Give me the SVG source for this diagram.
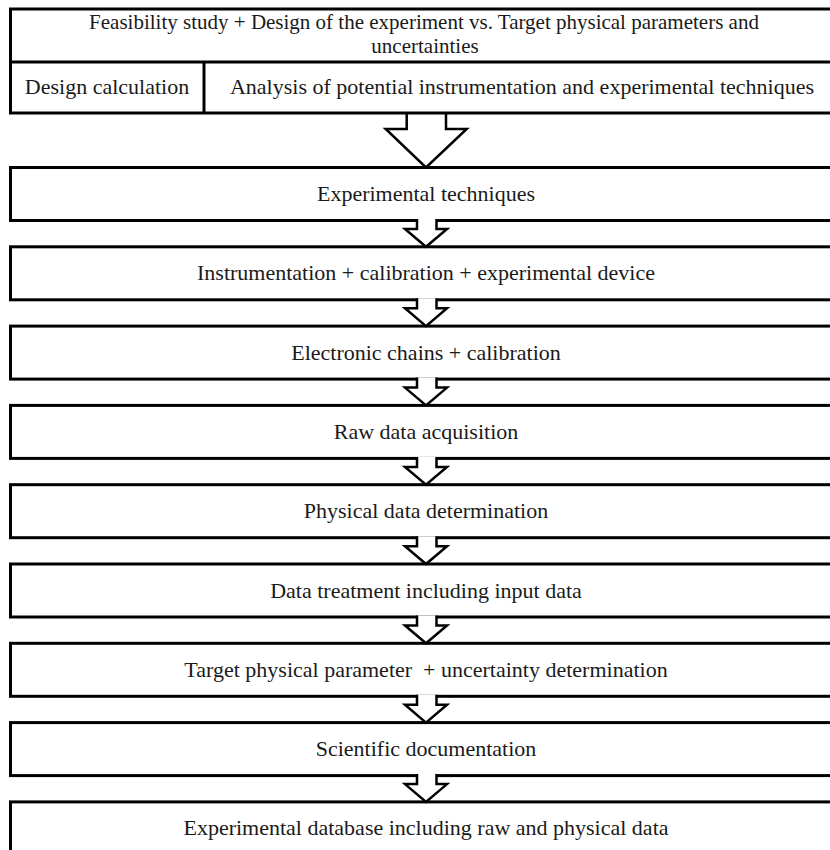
<svg xmlns="http://www.w3.org/2000/svg" width="830" height="850" viewBox="0 0 830 850">
<style>
.box{fill:#fff;stroke:#000;stroke-width:3}
.ln{stroke:#000;stroke-width:3;fill:none}
.arr{fill:#fff;stroke:#000;stroke-width:2.5;stroke-linejoin:miter}
.t{font-family:"Liberation Serif","Times New Roman",serif;font-size:22px;fill:#1a1a1a;text-anchor:middle}
.ts{font-size:21px}
</style>
<rect width="830" height="850" fill="#fff"/>
<g id="connectors">
<path class="arr" d="M406.7 113 V129 H385.7 L426 167.5 L466.7 129 H446 V113"/>
</g>
<g id="n0">
<rect class="box" x="10.5" y="9" width="832" height="104"/>
<line class="ln" x1="10.5" y1="62" x2="842.5" y2="62"/>
<line class="ln" x1="204" y1="62" x2="204" y2="113"/>
<text class="t ts" x="424" y="29">Feasibility study + Design of the experiment vs. Target physical parameters and</text>
<text class="t ts" x="425" y="53">uncertainties</text>
</g>
<g id="n0a"><text class="t" x="107" y="94">Design calculation</text></g>
<g id="n0b"><text class="t" x="522" y="94">Analysis of potential instrumentation and experimental techniques</text></g>
<g id="n1"><rect class="box" x="10.5" y="167.5" width="832" height="53"/><text class="t" x="426" y="201">Experimental techniques</text></g>
<g id="n2"><rect class="box" x="10.5" y="246.8" width="832" height="53"/><text class="t" x="426" y="280.3">Instrumentation + calibration + experimental device</text></g>
<g id="n3"><rect class="box" x="10.5" y="326.1" width="832" height="53"/><text class="t" x="426" y="359.6">Electronic chains + calibration</text></g>
<g id="n4"><rect class="box" x="10.5" y="405.4" width="832" height="53"/><text class="t" x="426" y="438.9">Raw data acquisition</text></g>
<g id="n5"><rect class="box" x="10.5" y="484.7" width="832" height="53"/><text class="t" x="426" y="518.2">Physical data determination</text></g>
<g id="n6"><rect class="box" x="10.5" y="564" width="832" height="53"/><text class="t" x="426" y="597.5">Data treatment including input data</text></g>
<g id="n7"><rect class="box" x="10.5" y="643.3" width="832" height="53"/><text class="t" x="426" y="676.8" xml:space="preserve">Target physical parameter  + uncertainty determination</text></g>
<g id="n8"><rect class="box" x="10.5" y="722.6" width="832" height="53"/><text class="t" x="426" y="756.1">Scientific documentation</text></g>
<g id="n9"><rect class="box" x="10.5" y="801.9" width="832" height="60"/><text class="t" x="426" y="835.4">Experimental database including raw and physical data</text></g>
<g id="connectors-small">
<path class="arr" d="M417 219 V229 H405 L426 246.8 L447 229 H436.5 V219"/>
<path class="arr" d="M417 298.3 V308.3 H405 L426 326.1 L447 308.3 H436.5 V298.3"/>
<path class="arr" d="M417 377.6 V387.6 H405 L426 405.4 L447 387.6 H436.5 V377.6"/>
<path class="arr" d="M417 456.9 V466.9 H405 L426 484.7 L447 466.9 H436.5 V456.9"/>
<path class="arr" d="M417 536.2 V546.2 H405 L426 564 L447 546.2 H436.5 V536.2"/>
<path class="arr" d="M417 615.5 V625.5 H405 L426 643.3 L447 625.5 H436.5 V615.5"/>
<path class="arr" d="M417 694.8 V704.8 H405 L426 722.6 L447 704.8 H436.5 V694.8"/>
<path class="arr" d="M417 774.1 V784.1 H405 L426 801.9 L447 784.1 H436.5 V774.1"/>
</g>
</svg>
